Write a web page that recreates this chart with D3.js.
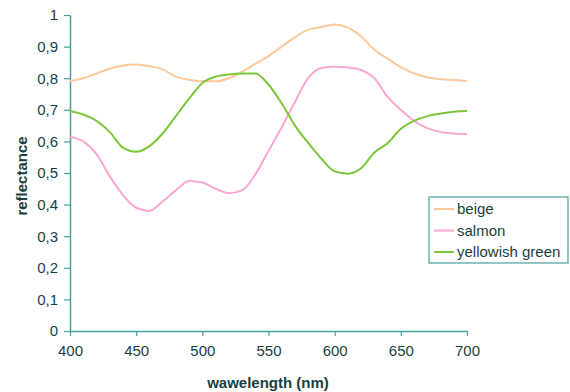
<!DOCTYPE html>
<html>
<head>
<meta charset="utf-8">
<script src="https://cdn.jsdelivr.net/npm/d3@7"></script>
<style>
  body { margin: 0; background: #fff; }
  svg { display: block; font-family: "Liberation Sans", Arial, sans-serif; }
</style>
</head>
<body>
<div id="chart"></div>
<script>
const wavelengths = d3.range(400, 701, 10);

const beige = [0.791, 0.800, 0.815, 0.830, 0.840, 0.843, 0.838, 0.828, 0.805, 0.795,
  0.790, 0.790, 0.800, 0.820, 0.845, 0.870, 0.900, 0.930, 0.953, 0.962,
  0.970, 0.960, 0.932, 0.890, 0.862, 0.835, 0.815, 0.803, 0.797, 0.794, 0.791];

const salmon = [0.615, 0.600, 0.560, 0.490, 0.430, 0.390, 0.380, 0.410, 0.445, 0.475,
  0.470, 0.450, 0.436, 0.445, 0.495, 0.570, 0.645, 0.725, 0.800, 0.832,
  0.836, 0.834, 0.826, 0.800, 0.741, 0.700, 0.665, 0.642, 0.630, 0.625, 0.623];

const yellowishGreen = [0.696, 0.685, 0.665, 0.630, 0.580, 0.567, 0.585, 0.625, 0.680, 0.735,
  0.785, 0.805, 0.812, 0.815, 0.815, 0.780, 0.720, 0.650, 0.595, 0.545,
  0.505, 0.498, 0.515, 0.565, 0.594, 0.640, 0.665, 0.680, 0.688, 0.694, 0.696];

const seriesNames = ["beige", "salmon", "yellowish green"];
const seriesValues = [beige, salmon, yellowishGreen];
const colors = ["#fdc89a", "#fca6d2", "#7cc63c"];

const xTicks = [400, 450, 500, 550, 600, 650, 700];
const yTicks = [0, 0.1, 0.2, 0.3, 0.4, 0.5, 0.6, 0.7, 0.8, 0.9, 1];

const width = 570, height = 392;
const margin = { top: 15, right: 103, bottom: 61, left: 70 };
const axisColor = "#4a9e9e";
const textColor = "#173f3f";
const fontSize = "15px";

const svg = d3.select("#chart").append("svg")
  .attr("width", width)
  .attr("height", height);

const x = d3.scaleLinear().domain([400, 700]).range([margin.left, width - margin.right]);
const y = d3.scaleLinear().domain([0, 1]).range([height - margin.bottom, margin.top]);

// axes
const xAxis = svg.append("g")
  .attr("transform", "translate(0," + (height - margin.bottom) + ")")
  .call(d3.axisBottom(x).tickValues(xTicks).tickSize(5).tickPadding(9).tickSizeOuter(0));

const yAxis = svg.append("g")
  .attr("transform", "translate(" + margin.left + ",0)")
  .call(d3.axisLeft(y).tickValues(yTicks).tickSize(6).tickPadding(6).tickSizeOuter(0)
    .tickFormat((d) => d3.format(".1~f")(d).replace(".", ",")));

[xAxis, yAxis].forEach((g) => {
  g.select(".domain").attr("stroke", axisColor).attr("stroke-width", 1.5);
  g.selectAll(".tick line").attr("stroke", axisColor).attr("stroke-width", 1.2);
  g.selectAll(".tick text").attr("fill", textColor).style("font-size", fontSize);
});

// lines
const line = d3.line()
  .x((d, i) => x(wavelengths[i]))
  .y((d) => y(d))
  .curve(d3.curveMonotoneX);

svg.selectAll("path.series")
  .data(seriesValues)
  .join("path")
  .attr("class", "series")
  .attr("fill", "none")
  .attr("stroke", (d, i) => colors[i])
  .attr("stroke-width", 2)
  .attr("d", line);

// axis titles
svg.append("text")
  .attr("x", 268)
  .attr("y", 388)
  .attr("text-anchor", "middle")
  .attr("fill", textColor)
  .style("font-size", fontSize)
  .style("font-weight", "bold")
  .text("wawelength (nm)");

svg.append("text")
  .attr("transform", "translate(27,176) rotate(-90)")
  .attr("text-anchor", "middle")
  .attr("fill", textColor)
  .style("font-size", fontSize)
  .style("font-weight", "bold")
  .text("reflectance");

// legend
const legend = svg.append("g").attr("transform", "translate(429,197)");
legend.append("rect")
  .attr("width", 139)
  .attr("height", 66)
  .attr("fill", "#fff")
  .attr("stroke", axisColor)
  .attr("stroke-width", 1.2);

const items = legend.selectAll("g.item")
  .data(seriesNames)
  .join("g")
  .attr("class", "item")
  .attr("transform", (d, i) => "translate(0," + (12 + i * 21.5) + ")");

items.append("line")
  .attr("x1", 5).attr("x2", 25)
  .attr("stroke", (d, i) => colors[i])
  .attr("stroke-width", 2);

items.append("text")
  .attr("x", 28)
  .attr("dy", "0.35em")
  .attr("fill", textColor)
  .style("font-size", fontSize)
  .text((d) => d);
</script>
</body>
</html>
